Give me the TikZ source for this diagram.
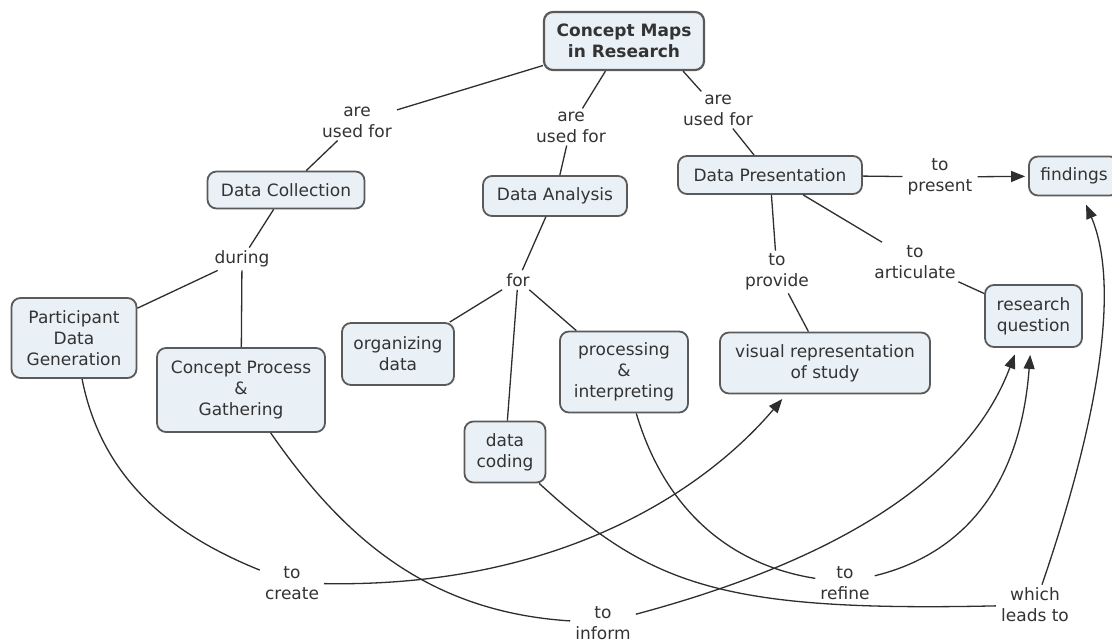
\documentclass[tikz,border=0pt]{standalone}
\usepackage{fontspec}
\setmainfont{DejaVu Sans}
\usetikzlibrary{arrows.meta}
\definecolor{boxfill}{HTML}{E9F1F6}
\definecolor{boxdraw}{HTML}{5A5A5A}
\definecolor{txt}{HTML}{333333}
\definecolor{lnk}{HTML}{2E2E2E}
\begin{document}
\begin{tikzpicture}[x=1pt,y=-1pt,
  font=\fontsize{17}{21}\selectfont,
  concept/.style={draw=boxdraw, fill=boxfill, line width=1.8pt, rounded corners=9pt,
    align=center, text=txt, inner sep=0pt},
  phrase/.style={align=center, text=txt, inner xsep=5pt, inner ysep=3pt},
  conn/.style={draw=lnk, line width=1.3pt},
  arr/.style={conn, -{Triangle[length=14pt,width=11pt]}}
]
\useasboundingbox (0,0) rectangle (1112,642);
\fill[white] (0,0) rectangle (1112,642);

% concepts
\node[concept, line width=2.2pt, font=\fontsize{17}{21}\selectfont\bfseries,
  minimum width=160pt, minimum height=58pt] (cm) at (624,41) {Concept Maps\\in Research};
\node[concept, minimum width=157pt, minimum height=37pt] (dc) at (286,190) {Data Collection};
\node[concept, minimum width=144pt, minimum height=40pt] (da) at (555,196) {Data Analysis};
\node[concept, minimum width=184pt, minimum height=38pt] (dp) at (770,175) {Data Presentation};
\node[concept, minimum width=90pt, minimum height=39pt] (fi) at (1074,176) {findings};
\node[concept, minimum width=125pt, minimum height=80pt] (pdg) at (74,338) {Participant\\Data\\Generation};
\node[concept, minimum width=168pt, minimum height=84pt] (cpg) at (241,390) {Concept Process\\\&\\Gathering};
\node[concept, minimum width=112pt, minimum height=62pt] (od) at (398,354) {organizing\\data};
\node[concept, minimum width=128pt, minimum height=81pt] (pi) at (624,372) {processing\\\&\\interpreting};
\node[concept, minimum width=81pt, minimum height=61pt] (co) at (505,452) {data\\coding};
\node[concept, minimum width=210pt, minimum height=61pt] (vrs) at (825,363) {visual representation\\of study};
\node[concept, minimum width=97pt, minimum height=62pt] (rq) at (1033.5,316) {research\\question};

% linking phrases
\node[phrase] (a1) at (357,122) {are\\used for};
\node[phrase] (a2) at (571,127) {are\\used for};
\node[phrase] (a3) at (718,110) {are\\used for};
\node[phrase] (during) at (242,259) {during};
\node[phrase] (for) at (518,280) {for};
\node[phrase] (topresent) at (940,177) {to\\present};
\node[phrase] (toprovide) at (777,272) {to\\provide};
\node[phrase] (toart) at (915,262) {to\\articulate};
\node[phrase] (tocreate) at (292,583) {to\\create};
\node[phrase] (toinform) at (603,623) {to\\inform};
\node[phrase] (torefine) at (845,583) {to\\refine};
\node[phrase] (wlt) at (1035,605) {which\\leads to};

% straight connectors
\draw[conn] (cm) -- (a1);
\draw[conn] (a1) -- (dc);
\draw[conn] (cm) -- (a2);
\draw[conn] (a2) -- (da);
\draw[conn] (cm.333) -- (a3);
\draw[conn] (a3) -- (dp);
\draw[conn] (dc) -- (during);
\draw[conn] (during) -- (pdg);
\draw[conn] (during) -- (cpg);
\draw[conn] (da) -- (for);
\draw[conn] (for) -- (od);
\draw[conn] (for) -- (co);
\draw[conn] (for) -- (pi);
\draw[conn] (dp) -- (topresent);
\draw[arr, shorten >=3pt] (topresent) -- (fi);
\draw[conn] (dp) -- (toprovide);
\draw[conn] (toprovide) -- (vrs);
\draw[conn] (dp) -- (toart);
\draw[conn] (toart) -- (rq);

% curved connectors
\draw[conn] (pdg) .. controls (100,470) and (160,530) .. (tocreate);
\draw[arr, shorten >=6pt] (tocreate) .. controls (560,588) and (705,490) .. (vrs.219);
\draw[conn] (cpg) .. controls (345,540) and (430,612) .. (toinform);
\draw[arr, shorten >=7pt] (toinform) .. controls (820,565) and (965,487) .. (rq.243);
\draw[conn] (pi) .. controls (665,510) and (730,565) .. (torefine);
\draw[arr, shorten >=7pt] (torefine) .. controls (960,555) and (1020,490) .. (rq.265);
\draw[conn] (co) .. controls (650,585) and (720,612) .. (wlt);
\draw[arr, shorten >=9pt] (wlt) .. controls (1095,430) and (1122,290) .. (fi.293);
\end{tikzpicture}
\end{document}
